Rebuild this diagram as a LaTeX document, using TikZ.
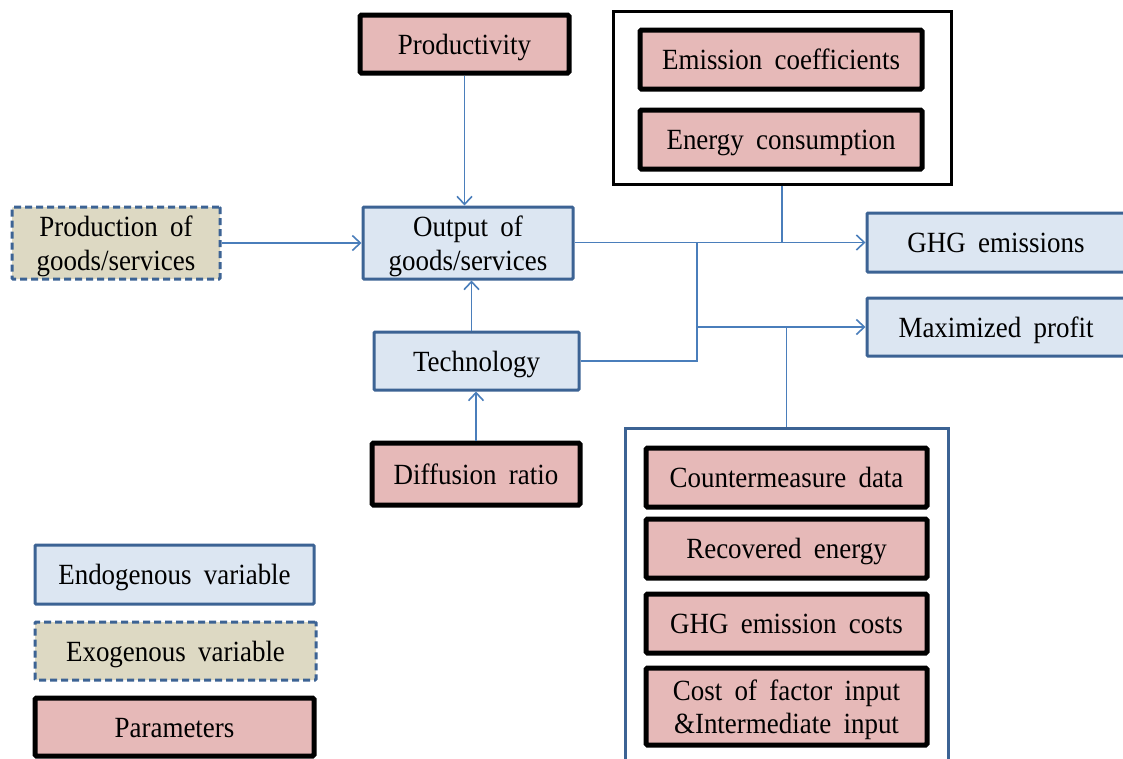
\documentclass[tikz,border=0pt]{standalone}
\usepackage{fontspec}
\setmainfont{Liberation Serif}[FakeStretch=0.92]
\usetikzlibrary{arrows.meta}
\definecolor{pinkfill}{HTML}{E6B9B8}
\definecolor{bluefill}{HTML}{DCE6F2}
\definecolor{tanfill}{HTML}{DDD9C3}
\definecolor{blueline}{HTML}{3C6394}
\definecolor{connline}{HTML}{4A7EBB}
\newcommand{\widesp}{\spaceskip=0.42em plus 0.1em\relax}
\begin{document}
\begin{tikzpicture}[x=1pt,y=-1pt,
  every node/.style={font=\fontsize{29.3}{33.5}\selectfont, align=center, inner sep=0pt, execute at begin node=\widesp, text height=24pt, text depth=4pt},
  twoline/.style={text height=58pt, text depth=4pt},
  endo/.style={draw=blueline, line width=3pt, fill=bluefill, rounded corners=1pt},
  exo/.style={draw=blueline, line width=3pt, fill=tanfill, dash pattern=on 7pt off 4pt, rounded corners=1pt},
  param/.style={draw=black, line width=5pt, fill=pinkfill, rounded corners=1.5pt},
  outerbox/.style={line width=3pt, fill=white},
  conn/.style={draw=connline, line width=1.6pt},
  arr/.style={conn, -{Straight Barb[length=8pt,width=15pt,line width=1.6pt]}}
]
\clip (0,0) rectangle (1123,758);
\fill[white] (0,0) rectangle (1123,758);

% top parameter group
\node[outerbox, draw=black, minimum width=338pt, minimum height=173pt] (emisOuter) at (782,97.5) {};
\node[param, minimum width=282pt, minimum height=59pt] (emisCoef) at (781,59.5) {Emission coefficients};
\node[param, minimum width=282pt, minimum height=59pt] (energy) at (781,139.5) {Energy consumption};

% bottom parameter group
\node[outerbox, draw=blueline, minimum width=323pt, minimum height=342pt] (lowOuter) at (786.5,599) {};
\node[param, minimum width=281pt, minimum height=59pt] (counter) at (786.5,477.5) {Countermeasure data};
\node[param, minimum width=281pt, minimum height=59pt] (recov) at (786.5,548.5) {Recovered energy};
\node[param, minimum width=281pt, minimum height=59pt] (ghgcost) at (786.5,623.5) {GHG emission costs};
\node[param, twoline, minimum width=281pt, minimum height=77pt] (costfac) at (786.5,706.5) {Cost of factor input\\\&Intermediate input};

% main nodes
\node[param, minimum width=209pt, minimum height=58pt] (prod) at (464.5,44) {Productivity};
\node[exo, twoline, minimum width=208pt, minimum height=72pt] (production) at (116,243) {Production of\\goods/services};
\node[endo, twoline, minimum width=210pt, minimum height=72pt] (output) at (468,243) {Output of\\goods/services};
\node[endo, minimum width=205pt, minimum height=58pt] (tech) at (476.5,361) {Technology};
\node[param, minimum width=208pt, minimum height=62pt] (diff) at (476,474) {Diffusion ratio};
\node[endo, minimum width=258pt, minimum height=59pt] (ghg) at (996,242.5) {GHG emissions};
\node[endo, minimum width=258pt, minimum height=58pt] (profit) at (996,327) {Maximized profit};

% legend
\node[endo, minimum width=279pt, minimum height=59pt] (legEndo) at (174.5,574.5) {Endogenous variable};
\node[exo, minimum width=281pt, minimum height=58pt] (legExo) at (175.5,651) {Exogenous variable};
\node[param, minimum width=279pt, minimum height=58pt] (legParam) at (174.5,727) {Parameters};

% junctions
\coordinate (j1) at (697,242.5);
\coordinate (j2) at (697,327);

% connectors
\draw[arr] (prod.south) -- (prod.south |- output.north);
\draw[arr] (production.east) -- (output.west);
\draw[arr] ([xshift=-5pt]tech.north) -- ([xshift=-5pt]tech.north |- output.south);
\draw[arr] (diff.north) -- (diff.north |- tech.south);
\draw[arr] (output.east |- ghg.west) -- (ghg.west);
\draw[conn] (tech.east) -| (j1);
\draw[arr] (j2) -- (profit.west);
\draw[conn] (emisOuter.south) -- (emisOuter.south |- ghg.west);
\draw[conn] (lowOuter.north) -- (lowOuter.north |- profit.west);
\end{tikzpicture}
\end{document}
